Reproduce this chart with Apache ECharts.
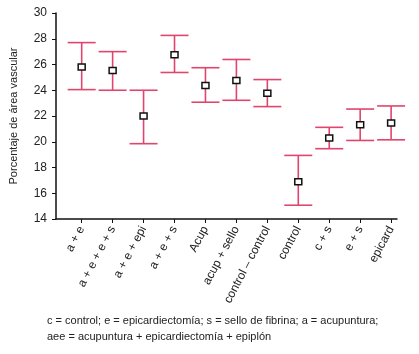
<!DOCTYPE html>
<html>
<head>
<meta charset="utf-8">
<script src="https://cdn.jsdelivr.net/npm/echarts@6/dist/echarts.min.js"></script>
<style>
  html, body { margin: 0; padding: 0; background: #fff; }
  #chart { width: 419px; height: 354px; }
</style>
</head>
<body>
<div id="chart"></div>
<script>
// grupos
const categories = ['a + e', 'a + e + e + s', 'a + e + epi', 'a + e + s', 'Acup', 'acup + sello',
  'control – control', 'control', 'c + s', 'e + s', 'epicard']
// media y límites del intervalo
const means = [25.8, 25.53, 22.0, 26.75, 24.36, 24.75, 23.77, 16.9, 20.29, 21.32, 21.45]
const lows = [24.05, 24.0, 19.85, 25.38, 23.07, 23.22, 22.73, 15.07, 19.46, 20.1, 20.15]
const highs = [27.7, 27.0, 24.0, 28.26, 25.75, 26.39, 24.83, 18.94, 21.12, 22.54, 22.78]
const yTicks = [14, 16, 18, 20, 22, 24, 26, 28, 30]

const font = 'Liberation Sans, Arial, sans-serif'
const barColor = '#e0456d'

const chart = echarts.init(document.getElementById('chart'))

const renderItem = (params, api) => {
  const i = api.value(0)
  const lo = api.coord([i, api.value(1)])
  const mid = api.coord([i, api.value(2)])
  const hi = api.coord([i, api.value(3)])
  const cap = 14
  const lineStyle = { stroke: barColor, lineWidth: 1.6 }
  return {
    type: 'group',
    children: [
      { type: 'line', shape: { x1: lo[0], y1: lo[1], x2: hi[0], y2: hi[1] }, style: lineStyle },
      { type: 'line', shape: { x1: hi[0] - cap, y1: hi[1], x2: hi[0] + cap, y2: hi[1] }, style: lineStyle },
      { type: 'line', shape: { x1: lo[0] - cap, y1: lo[1], x2: lo[0] + cap, y2: lo[1] }, style: lineStyle },
      { type: 'rect', shape: { x: mid[0] - 3.5, y: mid[1] - 3, width: 7, height: 6 },
        style: { fill: '#fff', stroke: '#111', lineWidth: 1.5 } }
    ]
  }
}

const option = {
  animation: false,
  grid: { left: 52, right: 22, top: 13, bottom: 135 },
  xAxis: {
    type: 'value',
    min: -0.83,
    max: 10.19,
    splitLine: { show: false },
    axisLine: { onZero: false, lineStyle: { color: '#111', width: 1.5 } },
    axisTick: { customValues: categories.map((c, i) => i), length: 4, lineStyle: { color: '#111' } },
    axisLabel: {
      customValues: categories.map((c, i) => i),
      formatter: v => categories[Math.round(v)],
      rotate: 62,
      margin: 8,
      fontSize: 12,
      fontFamily: font,
      color: '#222'
    }
  },
  yAxis: {
    type: 'value',
    min: 14,
    max: 30,
    interval: 2,
    name: 'Porcentaje de área vascular',
    nameLocation: 'middle',
    nameGap: 37,
    nameTextStyle: { fontSize: 11, fontFamily: font, color: '#222' },
    splitLine: { show: false },
    axisLine: { show: true, onZero: false, lineStyle: { color: '#111', width: 1.5 } },
    axisTick: { show: true, length: 4, lineStyle: { color: '#111' } },
    axisLabel: {
      fontSize: 12,
      fontFamily: font,
      color: '#222',
      margin: 9,
      formatter: v => (yTicks.includes(v) ? String(v) : '')
    }
  },
  series: [
    {
      type: 'custom',
      renderItem: renderItem,
      encode: { x: 0, y: [1, 2, 3] },
      data: categories.map((c, i) => [i, lows[i], means[i], highs[i]])
    }
  ],
  graphic: [
    {
      type: 'text',
      left: 47,
      top: 313,
      style: {
        text: 'c = control; e = epicardiectomía; s = sello de fibrina; a = acupuntura;\naee = acupuntura + epicardiectomía + epiplón',
        font: '11px ' + font,
        fill: '#222',
        lineHeight: 16
      }
    }
  ]
}

chart.setOption(option)
</script>
</body>
</html>
